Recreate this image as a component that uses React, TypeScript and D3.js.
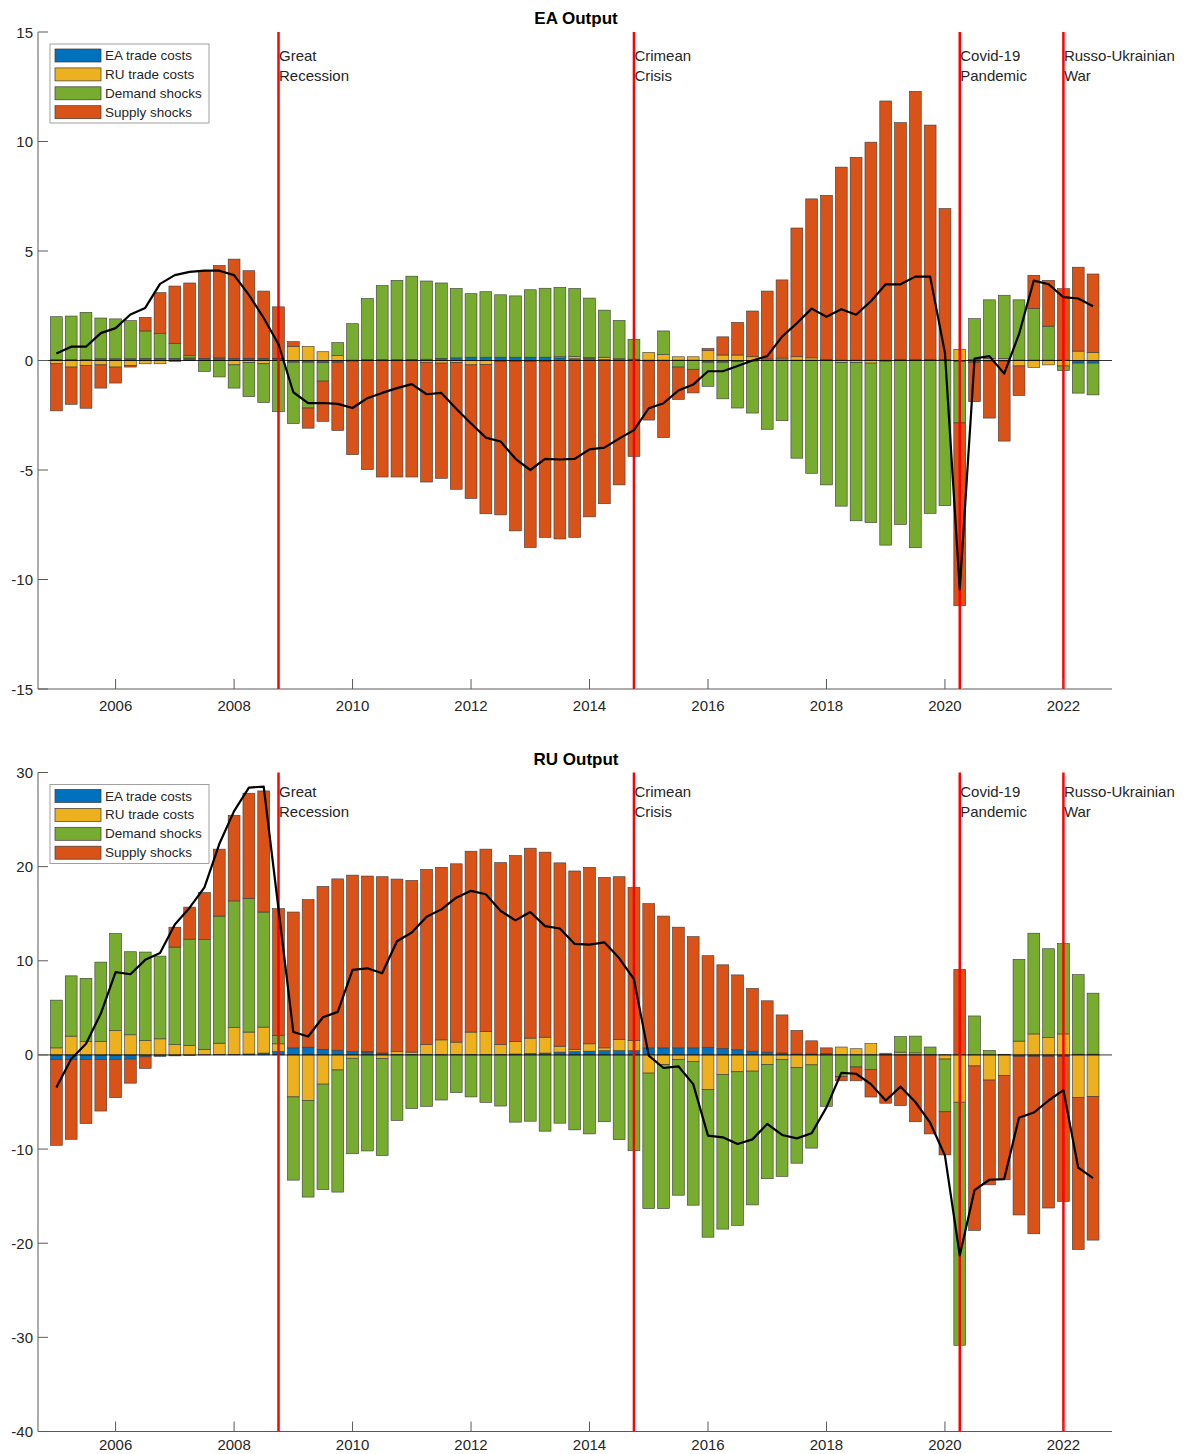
import React from 'react';
import * as d3 from 'd3';

// ---------- categories ----------
const START_YEAR = 2005;
const N_QUARTERS = 71; // 2005Q1 .. 2022Q3
const quarters = d3.range(N_QUARTERS).map((i) => START_YEAR + i / 4);

const seriesNames = ['EA trade costs', 'RU trade costs', 'Demand shocks', 'Supply shocks'];
const seriesColors = ['#0072BD', '#EDB120', '#77AC30', '#D95319'];

const xTicks = [2006, 2008, 2010, 2012, 2014, 2016, 2018, 2020, 2022];
const eaYTicks = [-15, -10, -5, 0, 5, 10, 15];
const ruYTicks = [-40, -30, -20, -10, 0, 10, 20, 30];

const eventYears = [2008.75, 2014.75, 2020.25, 2022.0];
const eventLabels = [
  ['Great', 'Recession'],
  ['Crimean', 'Crisis'],
  ['Covid-19', 'Pandemic'],
  ['Russo-Ukrainian', 'War'],
];

// ---------- EA Output ----------
const eaEATrade = [
  0.05, 0.05, 0.05, 0.08, 0.08, 0.08, 0.1, 0.1, 0.1, 0.08,
  0.1, 0.1, 0.1, 0.1, 0.1, 0.08, -0.08, -0.08, -0.1, -0.08,
  -0.03, 0.02, 0.02, 0.02, 0.03, 0.06, 0.1, 0.12, 0.15, 0.15,
  0.15, 0.15, 0.15, 0.15, 0.12, 0.08, 0.1, 0.05, 0.05, 0.03,
  0.02, 0.02, 0.02, 0.02, -0.08, -0.08, -0.05, -0.03, 0.02, 0.03,
  0.02, 0.02, 0.02, 0.02, 0.02, 0.02, 0.02, 0.02, 0.02, 0.02,
  0.02, -0.04, -0.08, -0.03, -0.03, 0.02, 0.02, 0.02, 0.02, -0.12,
  -0.12,
];
const eaRUTrade = [
  -0.15, -0.3, -0.22, -0.2, -0.3, -0.22, -0.15, -0.15, -0.05, 0.04,
  0.0, 0.02, -0.2, -0.1, -0.15, 0.02, 0.65, 0.65, 0.4, 0.22,
  0.02, 0.02, 0.02, 0.02, 0.02, -0.08, -0.12, -0.1, -0.2, -0.18,
  -0.05, -0.05, -0.05, -0.05, 0.05, 0.1, 0.03, 0.1, 0.03, 0.03,
  0.35, 0.25, 0.15, 0.15, 0.45, 0.25, 0.25, 0.17, 0.05, 0.08,
  0.15, 0.1, 0.03, -0.1, -0.1, -0.12, -0.03, 0.02, 0.02, 0.03,
  0.03, 0.51, 0.05, 0.1, 0.1, -0.25, -0.32, -0.2, -0.25, 0.43,
  0.37,
];
const eaDemand = [
  1.95, 1.98, 2.15, 1.86, 1.82, 1.74, 1.25, 1.13, 0.67, 0.1,
  -0.5, -0.75, -1.06, -1.55, -1.77, -2.34, -2.8, -2.09, -0.84, 0.6,
  1.66, 2.79, 3.38, 3.62, 3.8, 3.57, 3.44, 3.17, 2.9, 2.99,
  2.85, 2.8, 3.08, 3.15, 3.17, 3.11, 2.72, 2.15, 1.75, 0.91,
  -0.02, 1.08, -0.3, -0.4, -1.1, -1.67, -2.12, -2.37, -3.14, -2.75,
  -4.46, -5.15, -5.68, -6.55, -7.22, -7.28, -8.4, -7.49, -8.55, -6.98,
  -6.63, -2.81, 1.86, 2.67, 2.88, 2.75, 2.35, 1.55, -0.21, -1.37,
  -1.45,
];
const eaSupply = [
  -2.15, -1.7, -1.96, -1.06, -0.73, -0.08, 0.62, 1.87, 2.63, 3.32,
  4.0, 4.22, 4.53, 4.0, 3.07, 2.35, 0.21, -0.92, -1.84, -3.12,
  -4.27, -4.98, -5.32, -5.32, -5.32, -5.47, -5.26, -5.78, -6.1, -6.82,
  -7.0, -7.73, -8.49, -8.03, -8.15, -8.08, -7.14, -6.54, -5.68, -4.38,
  -2.7, -3.52, -1.48, -1.08, 0.1, 0.83, 1.49, 2.09, 3.1, 3.57,
  5.88, 7.26, 7.49, 8.81, 9.26, 9.95, 11.83, 10.82, 12.25, 10.7,
  6.89, -8.35, -1.8, -2.6, -3.65, -1.35, 1.52, 2.09, 3.26, 3.83,
  3.58,
];
const eaOutput = [
  0.32, 0.63, 0.63, 1.25, 1.48, 2.1, 2.4, 3.5, 3.9, 4.05,
  4.1, 4.1, 3.9, 3.0, 1.94, 0.74, -1.45, -1.95, -1.94, -1.98,
  -2.17, -1.72, -1.48, -1.26, -1.08, -1.54, -1.48, -2.2, -2.88, -3.52,
  -3.7, -4.49, -5.0, -4.49, -4.52, -4.49, -4.06, -3.98, -3.57, -3.18,
  -2.18, -1.95, -1.37, -1.1, -0.49, -0.49, -0.25, 0.0, 0.2, 1.09,
  1.7, 2.37, 2.0, 2.34, 2.09, 2.71, 3.48, 3.48, 3.83, 3.83,
  0.35, -10.45, 0.09, 0.2, -0.6, 1.2, 3.65, 3.48, 2.89, 2.83,
  2.48,
];

// ---------- RU Output ----------
const ruEATrade = [
  -0.5, -0.5, -0.5, -0.5, -0.5, -0.45, -0.2, -0.15, -0.1, -0.05,
  0.02, 0.05, 0.05, 0.1, 0.2, 0.36, 0.75, 0.82, 0.6, 0.5,
  0.35, 0.3, 0.2, 0.05, 0.05, 0.05, 0.03, 0.03, 0.05, 0.05,
  0.05, 0.1, 0.15, 0.2, 0.3, 0.35, 0.4, 0.45, 0.45, 0.45,
  0.75, 0.75, 0.75, 0.75, 0.8, 0.7, 0.55, 0.4, 0.3, 0.2,
  0.1, 0.1, 0.05, 0.02, 0.02, 0.02, 0.02, 0.02, 0.02, 0.02,
  0.02, 0.02, 0.02, 0.02, 0.02, -0.15, -0.15, -0.15, -0.15, 0.08,
  0.08,
];
const ruRUTrade = [
  0.75, 2.0, 1.43, 1.43, 2.6, 2.14, 1.54, 1.71, 1.1, 1.0,
  0.58, 1.2, 2.85, 2.33, 2.76, 0.82, -4.46, -4.82, -3.1, -1.6,
  -0.35, 0.05, -0.4, 0.3, 0.25, 1.05, 1.57, 1.33, 2.38, 2.45,
  1.05, 1.33, 1.64, 1.69, 0.63, 0.25, 0.78, 0.3, 1.19, 1.09,
  -1.93, -1.04, -0.5, -0.68, -3.68, -2.07, -1.79, -1.72, -1.0, -0.5,
  -1.36, -1.06, 0.1, 0.82, 0.64, 1.18, 0.05, 0.28, 0.2, 0.02,
  -0.44, -5.02, -1.17, -2.67, -2.2, 1.47, 2.23, 1.83, 2.23, -4.54,
  -4.4,
];
const ruDemand = [
  5.07, 6.4, 6.71, 8.43, 10.3, 8.82, 9.39, 8.79, 10.36, 11.3,
  11.65, 13.5, 13.46, 14.21, 12.22, 0.89, -8.84, -10.28, -11.2, -12.97,
  -10.15, -10.2, -10.28, -6.96, -5.7, -5.46, -4.79, -4.0, -4.46, -5.04,
  -5.43, -7.14, -7.04, -8.1, -7.25, -7.96, -8.39, -7.1, -9.0, -10.18,
  -14.39, -15.28, -14.4, -15.28, -15.68, -16.43, -16.31, -14.21, -12.15, -12.4,
  -10.14, -8.84, -5.46, -2.27, -1.28, -1.54, 0.11, 1.64, 1.78, 0.8,
  -5.6, -25.82, 4.12, 0.46, 0.05, 8.68, 10.7, 9.45, 9.6, 8.45,
  6.48,
];
const ruSupply = [
  -9.1, -8.46, -6.79, -5.46, -4.04, -2.55, -1.23, 0.0, 2.11, 3.4,
  5.0, 7.11, 9.1, 11.16, 12.86, 13.47, 14.43, 15.68, 17.3, 18.2,
  18.75, 18.65, 18.73, 18.33, 18.24, 18.6, 18.33, 18.94, 19.21, 19.36,
  19.33, 19.75, 20.17, 19.65, 19.47, 18.94, 18.75, 18.11, 17.29, 16.25,
  15.32, 14.0, 12.82, 11.82, 9.74, 8.87, 7.95, 6.67, 5.45, 4.05,
  2.5, 1.4, 0.6, -0.48, -1.47, -2.93, -5.13, -5.38, -7.1, -8.39,
  -4.58, 9.06, -17.47, -11.13, -11.06, -16.85, -18.85, -16.11, -15.42, -16.12,
  -15.27,
];
const ruOutput = [
  -3.46, -0.43, 1.18, 4.39, 8.79, 8.57, 10.1, 10.82, 13.86, 15.64,
  17.8, 22.4, 25.9, 28.4, 28.5, 15.5, 2.43, 1.96, 4.0, 4.57,
  9.04, 9.2, 8.68, 12.07, 13.0, 14.68, 15.46, 16.7, 17.43, 17.07,
  15.29, 14.29, 15.18, 13.68, 13.43, 11.79, 11.71, 11.96, 10.29, 8.04,
  -0.07, -1.39, -1.21, -3.1, -8.57, -8.75, -9.46, -8.97, -7.33, -8.5,
  -8.86, -8.32, -5.57, -1.9, -2.0, -3.1, -4.84, -3.37, -5.0, -7.2,
  -10.7, -21.3, -14.36, -13.26, -13.19, -6.67, -6.12, -4.84, -3.74, -11.98,
  -13.08,
];

// ---------- layout ----------
const FONT = '"Liberation Sans", Arial, Helvetica, sans-serif';
const PLOT_LEFT = 38;
const PLOT_RIGHT = 1112;
const xScale = d3.scaleLinear().domain([2004.69, 2022.82]).range([PLOT_LEFT, PLOT_RIGHT]);
const TEXT_COLOR = '#262626';
const AXIS_COLOR = '#5a5a5a';

type PanelProps = {
  title: string;
  top: number;
  bottom: number;
  domain: [number, number];
  yTicks: number[];
  comps: number[][];
  total: number[];
  labelOffset: number;
  xLabelOffset: number;
};

function Panel({ title, top, bottom, domain, yTicks, comps, total, labelOffset, xLabelOffset }: PanelProps) {
  const yScale = d3.scaleLinear().domain(domain).range([bottom, top]);
  const keys = ['s0', 's1', 's2', 's3'];
  const rows = quarters.map((q, i) => {
    const r: any = { q };
    keys.forEach((k, j) => (r[k] = comps[j][i]));
    return r;
  });
  const layers = d3.stack<any>().keys(keys).offset(d3.stackOffsetDiverging)(rows);
  const bw = xScale(START_YEAR + 0.2) - xScale(START_YEAR);

  const lineGen = d3
    .line<number>()
    .x((_, i) => xScale(quarters[i]))
    .y((v) => yScale(v));

  const legendTop = top + 12;
  const legendLeft = 50;

  return (
    <g>
      {/* bars */}
      {layers.map((layer, k) => (
        <g key={k}>
          {layer.map((d, i) => {
            const a = yScale(d[0]);
            const b = yScale(d[1]);
            const h = Math.abs(a - b);
            if (h < 0.01) return null;
            return (
              <rect
                key={i}
                x={xScale(quarters[i]) - bw / 2}
                y={Math.min(a, b)}
                width={bw}
                height={h}
                fill={seriesColors[k]}
                stroke="#3a3a3a"
                strokeWidth={0.6}
              />
            );
          })}
        </g>
      ))}
      {/* baseline */}
      <line x1={PLOT_LEFT} x2={PLOT_RIGHT} y1={yScale(0)} y2={yScale(0)} stroke="#000" strokeWidth={0.8} />
      {/* event lines */}
      {eventYears.map((ey, i) => (
        <g key={i}>
          <line x1={xScale(ey)} x2={xScale(ey)} y1={top} y2={bottom} stroke="#FF0000" strokeWidth={2.5} />
          <text x={xScale(ey) + 0.5} y={top + labelOffset} fontFamily={FONT} fontSize={15} fill={TEXT_COLOR}>
            {eventLabels[i][0]}
          </text>
          <text x={xScale(ey) + 0.5} y={top + labelOffset + 20} fontFamily={FONT} fontSize={15} fill={TEXT_COLOR}>
            {eventLabels[i][1]}
          </text>
        </g>
      ))}
      {/* total line */}
      <path d={lineGen(total) || ''} fill="none" stroke="#000" strokeWidth={2.2} strokeLinejoin="round" />
      {/* axes */}
      <line x1={PLOT_LEFT} x2={PLOT_LEFT} y1={top} y2={bottom} stroke={AXIS_COLOR} strokeWidth={1} />
      <line x1={PLOT_LEFT} x2={PLOT_RIGHT} y1={bottom} y2={bottom} stroke={AXIS_COLOR} strokeWidth={1} />
      {yTicks.map((t) => (
        <g key={t}>
          <line x1={PLOT_LEFT} x2={PLOT_LEFT + 10} y1={yScale(t)} y2={yScale(t)} stroke={AXIS_COLOR} strokeWidth={1} />
          <text
            x={PLOT_LEFT - 5}
            y={yScale(t)}
            textAnchor="end"
            dominantBaseline="central"
            fontFamily={FONT}
            fontSize={15}
            fill={TEXT_COLOR}
          >
            {t}
          </text>
        </g>
      ))}
      {xTicks.map((t) => (
        <g key={t}>
          <line x1={xScale(t)} x2={xScale(t)} y1={bottom} y2={bottom - 10} stroke={AXIS_COLOR} strokeWidth={1} />
          <text
            x={xScale(t)}
            y={bottom + xLabelOffset}
            textAnchor="middle"
            fontFamily={FONT}
            fontSize={15}
            fill={TEXT_COLOR}
          >
            {t}
          </text>
        </g>
      ))}
      {/* title */}
      <text
        x={576}
        y={top - 8}
        textAnchor="middle"
        fontFamily={FONT}
        fontSize={17}
        fontWeight="bold"
        fill="#000"
      >
        {title}
      </text>
      {/* legend */}
      <rect x={legendLeft} y={legendTop} width={159} height={79} fill="#fff" stroke="#8a8a8a" strokeWidth={0.8} />
      {seriesNames.map((name, k) => {
        const cy = legendTop + 11.5 + k * 18.9;
        return (
          <g key={name}>
            <rect x={55} y={cy - 6.5} width={46} height={13} fill={seriesColors[k]} stroke="#3a3a3a" strokeWidth={0.7} />
            <text x={105} y={cy} dominantBaseline="central" fontFamily={FONT} fontSize={13.5} fill={TEXT_COLOR}>
              {name}
            </text>
          </g>
        );
      })}
    </g>
  );
}

export default function App() {
  return (
    <svg
      width={1188}
      height={1454}
      style={{ position: 'absolute', left: 0, top: 0, background: '#fff' }}
      xmlns="http://www.w3.org/2000/svg"
    >
      <rect x={0} y={0} width={1188} height={1454} fill="#fff" />
      <Panel
        title="EA Output"
        top={32}
        bottom={689}
        domain={[-15, 15]}
        yTicks={eaYTicks}
        comps={[eaEATrade, eaRUTrade, eaDemand, eaSupply]}
        total={eaOutput}
        labelOffset={29}
        xLabelOffset={22}
      />
      <Panel
        title="RU Output"
        top={772.5}
        bottom={1431.5}
        domain={[-40, 30]}
        yTicks={ruYTicks}
        comps={[ruEATrade, ruRUTrade, ruDemand, ruSupply]}
        total={ruOutput}
        labelOffset={24.5}
        xLabelOffset={18}
      />
    </svg>
  );
}
